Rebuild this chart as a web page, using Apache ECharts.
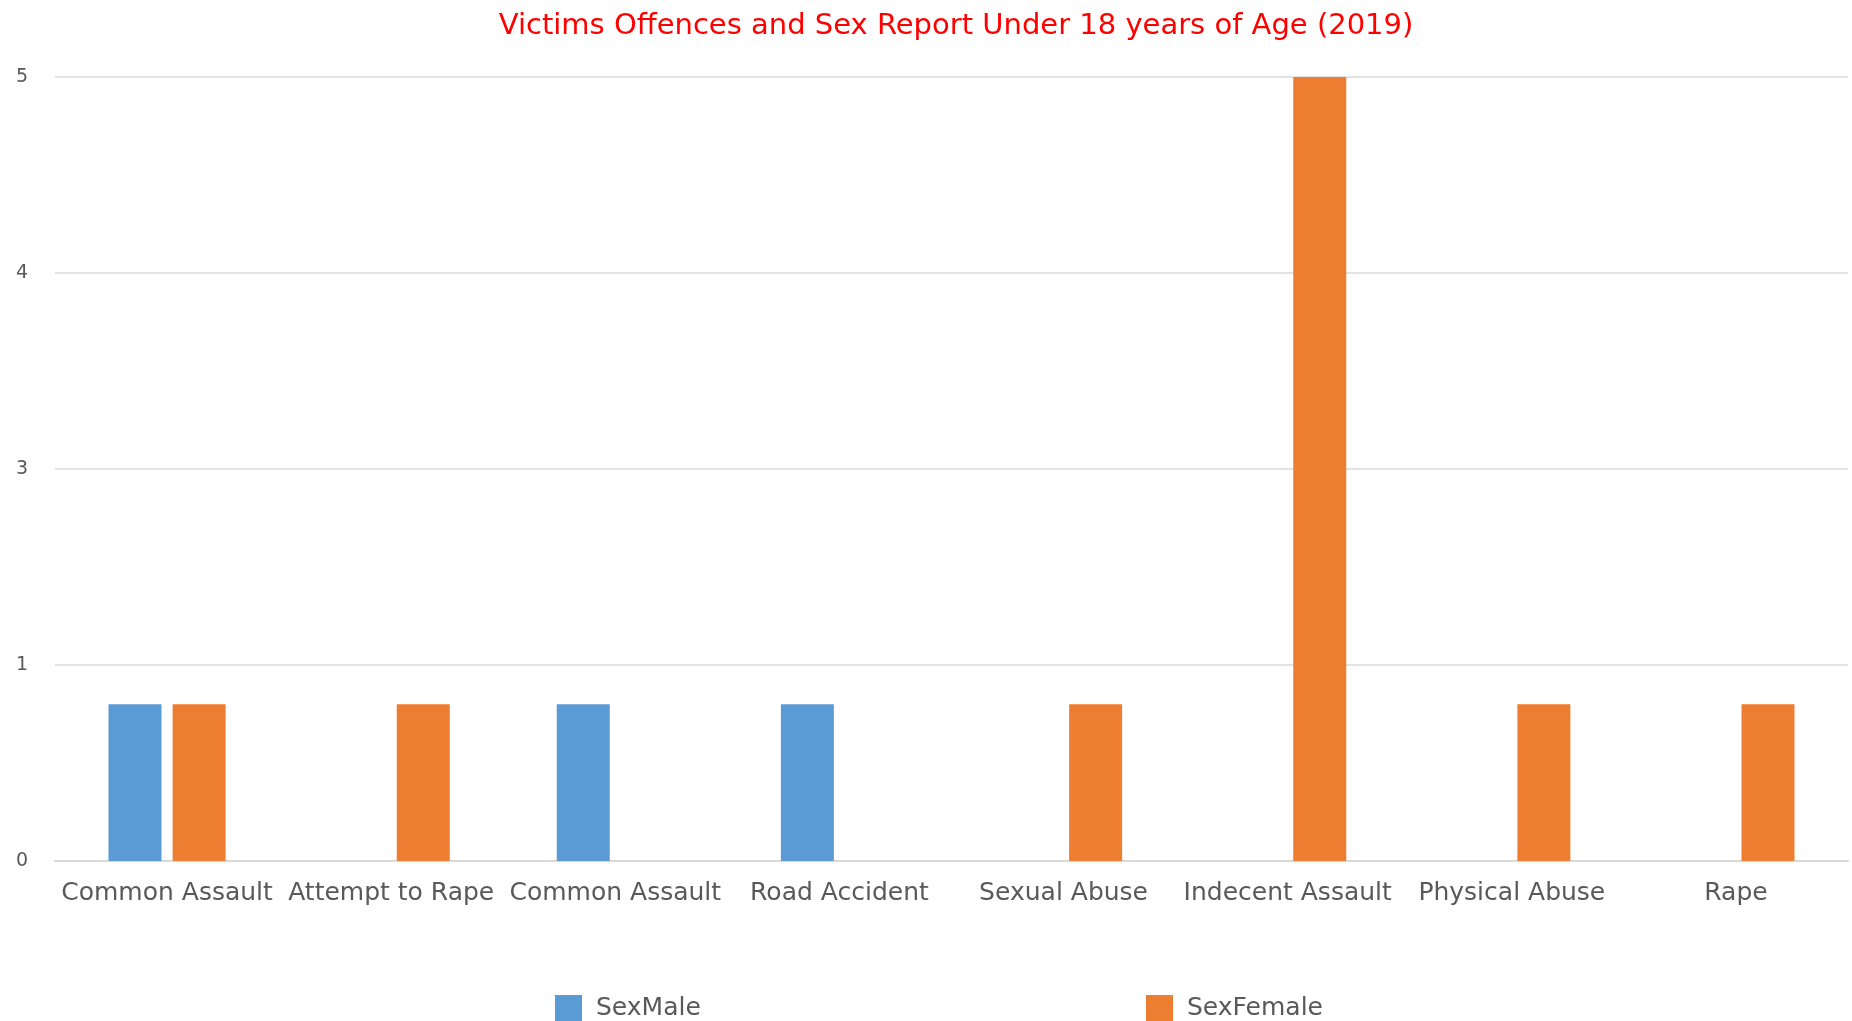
<!DOCTYPE html>
<html>
<head>
<meta charset="utf-8">
<script src="https://cdn.jsdelivr.net/npm/echarts@6/dist/echarts.min.js"></script>
<style>
html,body{margin:0;padding:0;background:#fff;}
#chart{width:1852px;height:1021px;}
</style>
</head>
<body>
<div id="chart"></div>
<script>
const titleText = 'Victims Offences and Sex Report Under 18 years of Age (2019)';
const categories = ['Common Assault', 'Attempt to Rape', 'Common Assault', 'Road Accident', 'Sexual Abuse', 'Indecent Assault', 'Physical Abuse', 'Rape'];
const sexMale = [1, 0, 1, 1, 0, 0, 0, 0];
const sexFemale = [1, 1, 0, 0, 1, 5, 1, 1];
const seriesNames = ['SexMale', 'SexFemale'];

const chart = echarts.init(document.getElementById('chart'));
const font = 'DejaVu Sans';
const legendText = { fontSize: 25, color: '#595959', fontFamily: font, padding: [0, 0, 0, 9] };
chart.setOption({
  animation: false,
  backgroundColor: '#ffffff',
  title: {
    text: titleText,
    left: 951, textAlign: 'center', top: 7,
    textStyle: { color: '#ff0000', fontSize: 29, fontWeight: 'normal', fontFamily: font }
  },
  legend: [
    { data: [seriesNames[0]], left: 550, top: 990, itemWidth: 27, itemHeight: 26,
      icon: 'rect', textStyle: legendText },
    { data: [seriesNames[1]], left: 1141, top: 990, itemWidth: 27, itemHeight: 26,
      icon: 'rect', textStyle: legendText }
  ],
  grid: { left: 55, right: 4, top: 77, bottom: 160, containLabel: false },
  xAxis: {
    type: 'category', data: categories,
    axisTick: { show: false },
    axisLine: { lineStyle: { color: '#d9d9d9', width: 2 } },
    axisLabel: { interval: 0, margin: 20, fontSize: 25, color: '#595959', fontFamily: font }
  },
  yAxis: {
    type: 'value', min: 0, max: 5, interval: 1.25,
    axisLine: { show: false }, axisTick: { show: false },
    splitLine: { lineStyle: { color: '#e3e3e3', width: 2 } },
    axisLabel: { margin: 27, fontSize: 19, color: '#595959', fontFamily: font,
      formatter: v => String(Math.round(v)) }
  },
  series: [
    { name: seriesNames[0], type: 'bar', data: sexMale, barWidth: 53, barGap: '21%',
      itemStyle: { color: '#5b9bd5' } },
    { name: seriesNames[1], type: 'bar', data: sexFemale, barWidth: 53, barGap: '21%',
      itemStyle: { color: '#ed7d31' } }
  ]
});
</script>
</body>
</html>
